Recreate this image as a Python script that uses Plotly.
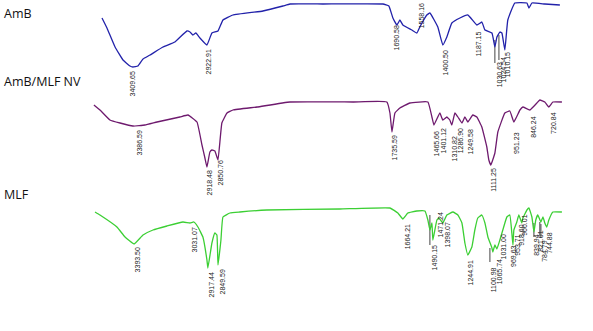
import plotly.graph_objects as go

# ---- data (wavenumber cm-1, relative transmittance %) ----
amb_wn = [3609, 3577, 3525, 3474, 3429, 3410, 3378, 3345, 3300, 3217, 3140, 3063, 3043, 3024, 3005,
          2979, 2934, 2902, 2863, 2831, 2767, 2574, 2445, 2400, 2188, 1802, 1764, 1738, 1712, 1693,
          1674, 1616, 1584, 1565, 1520, 1500, 1449, 1417, 1391, 1359, 1307, 1256, 1198, 1166, 1146,
          1101, 1082, 1069, 1050, 1037, 1018, 999, 954, 876, 863, 844, 761, 664]
amb_t = [86, 76, 57, 44, 38, 37, 38, 45, 49, 57, 62, 73, 72, 69, 71,
         66, 59, 71, 73, 84, 89, 93, 98, 100, 100, 100, 98, 86, 79, 84,
         79, 74, 71, 77, 89, 91, 77, 59, 67, 81, 86, 89, 79, 82, 74,
         71, 57, 67, 72, 71, 54, 84, 101, 101, 96, 101, 100, 99]

nv_wn = [3661, 3622, 3558, 3493, 3410, 3333, 3255, 3108, 3056, 2998, 2966, 2947, 2934, 2915, 2902,
         2883, 2863, 2838, 2805, 2767, 2612, 2400, 1995, 1777, 1757, 1744, 1725, 1693, 1629, 1513,
         1487, 1474, 1436, 1417, 1391, 1372, 1359, 1339, 1320, 1294, 1275, 1256, 1224, 1198, 1166,
         1134, 1121, 1108, 1082, 1063, 1018, 986, 960, 921, 902, 857, 812, 793, 761, 735, 709, 651]
nv_t = [97, 92, 82, 79, 76, 77, 80, 85, 87, 80, 57, 44, 35, 50, 52,
        51, 42, 79, 89, 92, 95, 100, 100, 100, 89, 70, 89, 94, 99, 100,
        85, 77, 89, 82, 85, 82, 77, 89, 85, 79, 85, 80, 87, 85, 75,
        55, 42, 37, 49, 70, 89, 91, 80, 92, 95, 92, 99, 102, 100, 95, 100, 100]

mlf_wn = [3654, 3622, 3513, 3461, 3403, 3345, 3281, 3191, 3088, 3043, 3018, 2992, 2960, 2934, 2928,
          2902, 2883, 2870, 2863, 2844, 2831, 2786, 2722, 2548, 2079, 1757, 1706, 1674, 1642, 1584,
          1532, 1513, 1500, 1487, 1481, 1455, 1442, 1417, 1391, 1352, 1320, 1294, 1275, 1256, 1230,
          1211, 1192, 1166, 1146, 1127, 1101, 1095, 1082, 1069, 1050, 1031, 1005, 986, 973, 966,
          960, 941, 928, 909, 902, 876, 863, 844, 831, 819, 806, 786, 773, 761, 748, 735, 709, 651]
mlf_t = [98, 95, 83, 73, 66, 75, 80, 84, 88, 87, 88, 83, 73, 50, 42,
         67, 77, 75, 45, 70, 93, 97, 98, 100, 101, 102, 97, 91, 97, 99,
         99, 90, 80, 87, 70, 90, 92, 87, 95, 98, 95, 87, 67, 55, 63,
         80, 92, 95, 87, 73, 62, 58, 65, 61, 70, 80, 93, 95, 77, 65,
         80, 88, 95, 87, 92, 100, 102, 93, 78, 90, 95, 88, 93, 87, 83, 90, 98, 98]

names = ["AmB", "AmB/MLF NV", "MLF"]
offsets = [227, 129, 21]
colors = ["#2222aa", "#6e1a6e", "#3ccf34"]

# peak labels: (text, label wavenumber, anchor transmittance, anchor side)
amb_labels = [("3409.65", 3410, 35, "top"), ("2922.91", 2921, 57, "top"), ("1690.58", 1712, 81, "top"),
              ("1558.16", 1552, 74, "bottom"), ("1400.50", 1397, 56, "top"), ("1187.15", 1185, 75, "top"),
              ("1030.63", 1050, 44, "top"), ("1024.54", 1024, 49, "top"), ("1010.15", 999, 54, "top")]
nv_labels = [("3386.59", 3365, 74, "top"), ("2918.48", 2915, 34, "top"), ("2850.76", 2844, 44, "top"),
             ("1735.59", 1725, 69, "top"), ("1465.66", 1455, 73, "top"), ("1401.12", 1410, 76, "top"),
             ("1310.82", 1339, 68, "top"), ("1286.90", 1301, 76, "top"), ("1249.58", 1236, 75, "top"),
             ("1111.25", 1095, 36, "top"), ("951.23", 947, 72, "top"), ("846.24", 838, 88, "top"),
             ("720.84", 709, 92, "top")]
mlf_labels = [("3393.50", 3378, 65, "top"), ("3031.07", 3011, 85, "top"), ("2917.44", 2902, 40, "top"),
              ("2849.59", 2831, 43, "top"), ("1664.21", 1642, 88, "top"), ("1490.15", 1468, 67, "top"),
              ("1471.24", 1429, 100, "top"), ("1398.07", 1384, 90, "top"), ("1244.91", 1236, 52, "top"),
              ("1100.98", 1089, 45, "top"), ("1065.74", 1050, 53, "top"), ("1031.00", 1024, 78, "top"),
              ("969.63", 966, 67, "top"), ("953.71", 941, 78, "top"), ("918.60", 915, 88, "top"),
              ("900.01", 896, 98, "top"), ("839.94", 819, 78, "top"), ("821.61", 793, 82, "top"),
              ("784.79", 767, 72, "top"), ("744.88", 735, 80, "top")]

# leader lines: (wavenumber, T start, T end)
amb_leaders = [(1082, 64, 41), (1056, 69, 44)]
mlf_leaders = [(1500, 95, 65), (1114, 62, 48), (831, 87, 73), (793, 88, 75), (786, 86, 72)]

series = [(amb_wn, amb_t, amb_labels, amb_leaders),
          (nv_wn, nv_t, nv_labels, []),
          (mlf_wn, mlf_t, mlf_labels, mlf_leaders)]

W, H = 593, 331
fig = go.Figure()
annotations = []
for (wn, t, labels, leaders), name, off, col in zip(series, names, offsets, colors):
    for lw, t0, t1 in leaders:
        fig.add_trace(go.Scatter(x=[lw, lw], y=[t0 + off, t1 + off], mode="lines",
                                 line=dict(color="#444444", width=1), hoverinfo="skip", showlegend=False))
    fig.add_trace(go.Scatter(x=wn, y=[v + off for v in t], mode="lines", name=name,
                             line=dict(color=col, width=1.3, shape="spline", smoothing=0.3),
                             showlegend=False))
    for txt, lx, lt, side in labels:
        annotations.append(dict(x=lx, y=lt + off, xref="x", yref="y", text=txt, showarrow=False,
                                textangle=-90, xanchor="center", yanchor=side,
                                font=dict(family="Liberation Sans, Arial", size=7, color="#222222")))

# panel titles
title_pos = [(2, 14), (2, 82), (2, 194)]
for name, (px, py) in zip(names, title_pos):
    annotations.append(dict(x=px / W, y=1 - py / H, xref="paper", yref="paper", text=name,
                            showarrow=False, xanchor="left", yanchor="middle",
                            font=dict(family="Open Sans, Noto Sans", size=12.5, color="#111111")))

fig.update_layout(
    width=W, height=H, margin=dict(l=0, r=0, t=0, b=0),
    paper_bgcolor="white", plot_bgcolor="white",
    xaxis=dict(range=[4265, 451], visible=False, showgrid=False, zeroline=False),
    yaxis=dict(range=[0, 331], visible=False, showgrid=False, zeroline=False),
    annotations=annotations,
)
fig.write_html("out.html")
